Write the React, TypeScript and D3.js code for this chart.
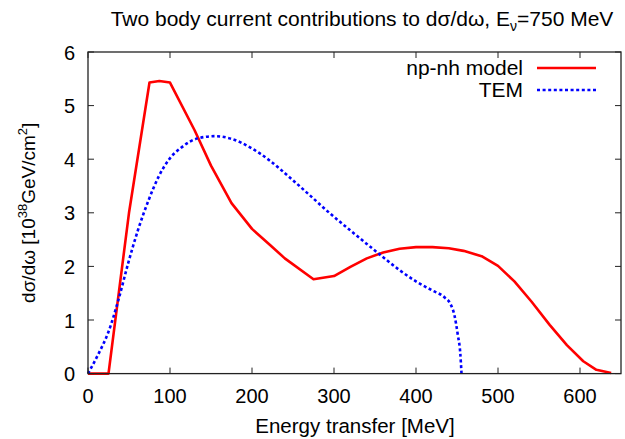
import React from "react";
import * as d3 from "d3";

// Energy transfer (MeV) and dσ/dω (10^-38 cm²/GeV) for each model
const npnhEnergy = [0, 25, 50, 75, 87, 100, 130, 150, 175, 200, 222, 240, 275, 300, 320, 340, 360, 380, 400, 420, 440, 458, 480, 500, 520, 541, 563, 584, 604, 620, 638];
const npnhValue = [0, 0, 3.0, 5.43, 5.46, 5.43, 4.54, 3.88, 3.18, 2.7, 2.4, 2.15, 1.76, 1.82, 1.99, 2.15, 2.26, 2.33, 2.36, 2.36, 2.34, 2.29, 2.19, 2.01, 1.72, 1.34, 0.91, 0.53, 0.23, 0.07, 0.01];

const temEnergy = [0, 12.5, 25, 37, 49, 61, 74, 86, 98, 114, 134, 155, 175, 200, 222, 246, 271, 295, 320, 340, 360, 380, 400, 420, 435, 442, 447, 451, 454, 455.5];
const temValue = [0, 0.36, 0.78, 1.37, 2.06, 2.68, 3.24, 3.67, 3.98, 4.22, 4.39, 4.43, 4.38, 4.2, 3.97, 3.66, 3.32, 2.99, 2.67, 2.42, 2.17, 1.93, 1.72, 1.55, 1.42, 1.3, 1.08, 0.72, 0.38, 0];

const xTicks = [0, 100, 200, 300, 400, 500, 600];
const yTicks = [0, 1, 2, 3, 4, 5, 6];

const W = 625;
const H = 439;
const left = 88;
const right = 621;
const top = 52;
const bottom = 373.6;
const font = "'Liberation Sans', Arial, Helvetica, sans-serif";

export default function App() {
  const x = d3.scaleLinear().domain([0, 650]).range([left, right]);
  const y = d3.scaleLinear().domain([0, 6]).range([bottom, top]);

  const npnh = npnhEnergy.map((e, i) => [e, npnhValue[i]] as [number, number]);
  const tem = temEnergy.map((e, i) => [e, temValue[i]] as [number, number]);

  const linePlain = d3.line<[number, number]>().x((d) => x(d[0])).y((d) => y(d[1]));
  const lineSmooth = d3
    .line<[number, number]>()
    .x((d) => x(d[0]))
    .y((d) => y(d[1]))
    .curve(d3.curveMonotoneX);

  const tickLen = 6;

  return (
    <svg
      width={W}
      height={H}
      style={{ position: "absolute", left: 0, top: 0, background: "#fff" }}
      fontFamily={font}
    >
      <rect x={0} y={0} width={W} height={H} fill="#fff" />

      {/* title */}
      <text x={362} y={26} fontSize={21} textAnchor="middle" fill="#000">
        Two body current contributions to dσ/dω, E
        <tspan fontSize={14} dy={5}>ν</tspan>
        <tspan dy={-5}>=750 MeV</tspan>
      </text>

      {/* curves */}
      <path d={linePlain(npnh) || ""} fill="none" stroke="#ff0000" strokeWidth={2.6} strokeLinejoin="round" />
      <path
        d={lineSmooth(tem) || ""}
        fill="none"
        stroke="#0000ff"
        strokeWidth={2.6}
        strokeDasharray="3,2.6"
      />

      {/* frame */}
      <rect x={left} y={top} width={right - left} height={bottom - top} fill="none" stroke="#222" strokeWidth={1.3} />

      {/* x ticks */}
      {xTicks.map((t) => (
        <g key={"x" + t}>
          <line x1={x(t)} x2={x(t)} y1={bottom} y2={bottom - tickLen} stroke="#222" strokeWidth={1} />
          <line x1={x(t)} x2={x(t)} y1={top} y2={top + tickLen} stroke="#222" strokeWidth={1} />
          <text x={x(t)} y={403} fontSize={20} textAnchor="middle" fill="#000">
            {t}
          </text>
        </g>
      ))}

      {/* y ticks */}
      {yTicks.map((t) => (
        <g key={"y" + t}>
          <line x1={left} x2={left + tickLen} y1={y(t)} y2={y(t)} stroke="#222" strokeWidth={1} />
          <line x1={right} x2={right - tickLen} y1={y(t)} y2={y(t)} stroke="#222" strokeWidth={1} />
          <text x={75} y={y(t) + 7.5} fontSize={20} textAnchor="end" fill="#000">
            {t}
          </text>
        </g>
      ))}

      {/* axis titles */}
      <text x={355} y={433} fontSize={20.5} textAnchor="middle" fill="#000">
        Energy transfer [MeV]
      </text>
      <text transform={`translate(35,${(top + bottom) / 2}) rotate(-90)`} fontSize={19} textAnchor="middle" fill="#000">
        dσ/dω [10
        <tspan fontSize={13} dy={-8}>38</tspan>
        <tspan dy={8}>GeV/cm</tspan>
        <tspan fontSize={13} dy={-8}>2</tspan>
        <tspan dy={8}>]</tspan>
      </text>

      {/* legend */}
      <text x={523} y={75} fontSize={21} textAnchor="end" fill="#000">
        np-nh model
      </text>
      <line x1={537} x2={596} y1={68} y2={68} stroke="#ff0000" strokeWidth={2.6} />
      <text x={523} y={97} fontSize={21} textAnchor="end" fill="#000">
        TEM
      </text>
      <line x1={537} x2={596} y1={90} y2={90} stroke="#0000ff" strokeWidth={2.6} strokeDasharray="3,2.6" />
    </svg>
  );
}
